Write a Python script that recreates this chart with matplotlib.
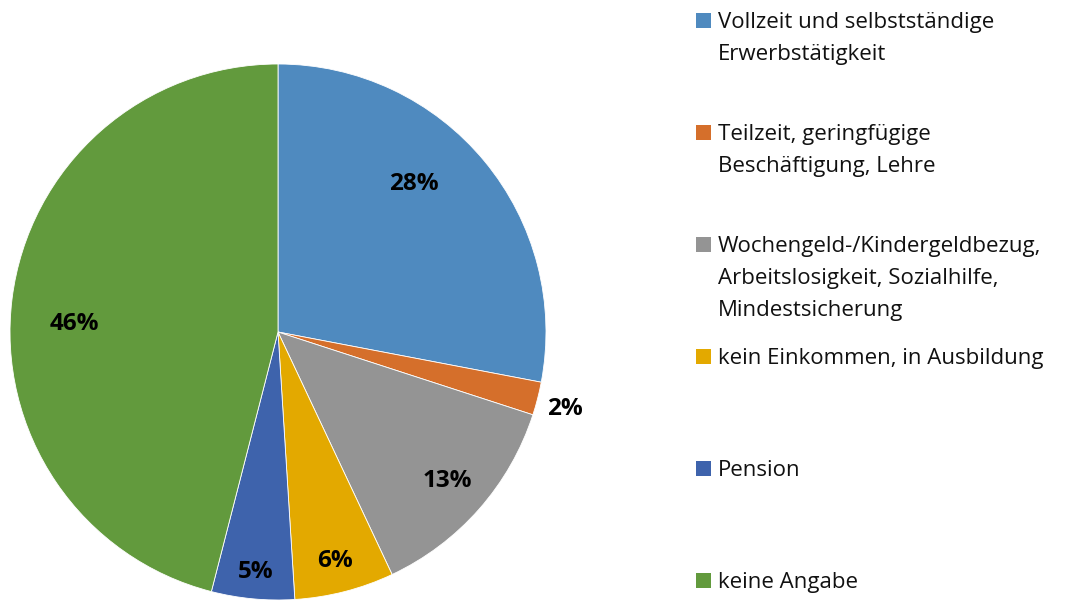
import numpy as np
import matplotlib
matplotlib.use("Agg")
import matplotlib.pyplot as plt
from matplotlib.patches import Rectangle

# data
categories = [
    "Vollzeit und selbstständige\nErwerbstätigkeit",
    "Teilzeit, geringfügige\nBeschäftigung, Lehre",
    "Wochengeld-/Kindergeldbezug,\nArbeitslosigkeit, Sozialhilfe,\nMindestsicherung",
    "kein Einkommen, in Ausbildung",
    "Pension",
    "keine Angabe",
]
shares = [28, 2, 13, 6, 5, 46]
colors = ["#4F8ABF", "#D56F2B", "#949494", "#E3A900", "#3E63AC", "#629A3D"]

# label placement (radius factor, angle shift in degrees) - like Excel "best fit"
label_r = [0.75, 1.11, 0.84, 0.88, 0.90, 0.76]
label_shift = [7.8, -0.6, 0.0, -0.4, 0.0, 5.0]

W, H = 1071, 603
fig = plt.figure(figsize=(W / 100, H / 100), dpi=100)
plt.rcParams['font.family'] = ['Open Sans', 'DejaVu Sans']

# pie axes: centre (278, 332), radius 268 px
cx, cy, r = 278, 332, 268
ax = fig.add_axes([(cx - r) / W, (H - cy - r) / H, 2 * r / W, 2 * r / H])
wedges, _ = ax.pie(shares, colors=colors, startangle=90, counterclock=False,
                   radius=1, wedgeprops=dict(edgecolor="white", linewidth=0.6))
ax.set_xlim(-1, 1)
ax.set_ylim(-1, 1)
ax.set_aspect("equal")
ax.axis("off")

for w, v, rf, sh in zip(wedges, shares, label_r, label_shift):
    mid = np.deg2rad((w.theta1 + w.theta2) / 2 + sh)
    ax.text(rf * np.cos(mid), rf * np.sin(mid), f"{v}%", ha="center", va="center",
            fontsize=17.5, fontweight="bold", color="black")

# legend drawn by hand
sq = 15
x_sq = 696
x_txt = 718
y0, dy = 20, 112
line_h = 32
for i, (lab, col) in enumerate(zip(categories, colors)):
    yc = y0 + i * dy
    fig.patches.append(Rectangle((x_sq / W, (H - yc - sq / 2) / H), sq / W, sq / H,
                                 transform=fig.transFigure, facecolor=col,
                                 edgecolor="none"))
    for j, line in enumerate(lab.split("\n")):
        fig.text(x_txt / W, (H - yc - j * line_h) / H, line, ha="left",
                 va="center_baseline", fontsize=16, color="#111111")

fig.savefig("out.png", dpi=100)
